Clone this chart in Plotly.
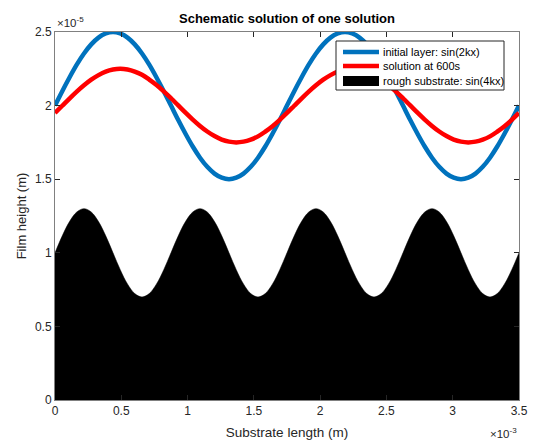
import plotly.graph_objects as go

# Sample positions along the substrate (units of 1e-3 m)
x_mm = [i * 0.0546875 for i in range(65)]

# Film heights (units of 1e-5 m)
initial_layer = [
    2.000, 2.098, 2.191, 2.278, 2.354, 2.416, 2.462, 2.490,
    2.500, 2.490, 2.462, 2.416, 2.354, 2.278, 2.191, 2.098,
    2.000, 1.902, 1.809, 1.722, 1.646, 1.584, 1.538, 1.510,
    1.500, 1.510, 1.538, 1.584, 1.646, 1.722, 1.809, 1.902,
    2.000, 2.098, 2.191, 2.278, 2.354, 2.416, 2.462, 2.490,
    2.500, 2.490, 2.462, 2.416, 2.354, 2.278, 2.191, 2.098,
    2.000, 1.902, 1.809, 1.722, 1.646, 1.584, 1.538, 1.510,
    1.500, 1.510, 1.538, 1.584, 1.646, 1.722, 1.809, 1.902,
    2.000]
solution_600s = [
    1.950, 1.999, 2.048, 2.095, 2.138, 2.176, 2.207, 2.231,
    2.245, 2.250, 2.245, 2.231, 2.209, 2.177, 2.140, 2.097,
    2.050, 2.001, 1.952, 1.905, 1.862, 1.824, 1.793, 1.769,
    1.755, 1.750, 1.755, 1.769, 1.791, 1.823, 1.860, 1.903,
    1.950, 1.999, 2.048, 2.095, 2.138, 2.176, 2.207, 2.231,
    2.245, 2.250, 2.245, 2.231, 2.209, 2.177, 2.140, 2.097,
    2.050, 2.001, 1.952, 1.905, 1.862, 1.824, 1.793, 1.769,
    1.755, 1.750, 1.755, 1.769, 1.791, 1.823, 1.860, 1.903,
    1.950]
substrate = [
    1.000, 1.115, 1.212, 1.277, 1.300, 1.277, 1.212, 1.115,
    1.000, 0.885, 0.788, 0.723, 0.700, 0.723, 0.788, 0.885,
    1.000, 1.115, 1.212, 1.277, 1.300, 1.277, 1.212, 1.115,
    1.000, 0.885, 0.788, 0.723, 0.700, 0.723, 0.788, 0.885,
    1.000, 1.115, 1.212, 1.277, 1.300, 1.277, 1.212, 1.115,
    1.000, 0.885, 0.788, 0.723, 0.700, 0.723, 0.788, 0.885,
    1.000, 1.115, 1.212, 1.277, 1.300, 1.277, 1.212, 1.115,
    1.000, 0.885, 0.788, 0.723, 0.700, 0.723, 0.788, 0.885,
    1.000]

series_names = ["initial layer: sin(2kx)", "solution at 600s", "rough substrate: sin(4kx)"]
x_ticks = [0, 0.5, 1, 1.5, 2, 2.5, 3, 3.5]
y_ticks = [0, 0.5, 1, 1.5, 2, 2.5]

BLUE, RED = "#0072BD", "#FF0000"
FONT = "Liberation Sans, Arial, sans-serif"
AX = "#262626"

W, H = 537, 443
ML, MR, MT, MB = 55, 18, 32, 43
PW, PH = W - ML - MR, H - MT - MB


def px(xp):
    return (xp - ML) / PW


def py(yp):
    return (H - MB - yp) / PH


x = [v * 1e-3 for v in x_mm]

fig = go.Figure()
fig.add_trace(go.Scatter(x=x, y=[v * 1e-5 for v in initial_layer], mode="lines",
                         line=dict(color=BLUE, width=4.5, shape="spline"),
                         name=series_names[0], showlegend=False))
fig.add_trace(go.Scatter(x=x, y=[v * 1e-5 for v in solution_600s], mode="lines",
                         line=dict(color=RED, width=4.5, shape="spline"),
                         name=series_names[1], showlegend=False))
fig.add_trace(go.Scatter(x=x, y=[v * 1e-5 for v in substrate], mode="lines",
                         line=dict(color="black", width=0.5, shape="spline"),
                         fill="tozeroy", fillcolor="black",
                         name=series_names[2], showlegend=False))

axis_common = dict(showgrid=False, zeroline=False, showline=True, linecolor="#808080",
                   linewidth=1, mirror="allticks", ticks="inside", ticklen=5,
                   tickcolor=AX, automargin=False,
                   tickfont=dict(family=FONT, size=12, color=AX))

fig.update_layout(
    width=W, height=H,
    margin=dict(l=ML, r=MR, t=MT, b=MB),
    paper_bgcolor="white", plot_bgcolor="white",
    showlegend=False,
    title=dict(text="<b>Schematic solution of one solution</b>", x=0.5, xanchor="center",
               xref="paper", y=1 - 18 / H, yanchor="middle",
               font=dict(family=FONT, size=13, color="black")),
    xaxis=dict(range=[0, 3.5e-3], tickvals=[v * 1e-3 for v in x_ticks],
               ticktext=[f"{v:g}" for v in x_ticks],
               title=dict(text="Substrate length (m)", standoff=10,
                          font=dict(family=FONT, size=13.5, color=AX)),
               **axis_common),
    yaxis=dict(range=[0, 2.5e-5], tickvals=[v * 1e-5 for v in y_ticks],
               ticktext=[f"{v:g}" for v in y_ticks],
               title=dict(text="Film height (m)", standoff=5,
                          font=dict(family=FONT, size=13, color=AX)),
               **axis_common),
)

# Axis exponent labels
fig.add_annotation(text="\u00d710<sup>-5</sup>", xref="paper", yref="paper",
                   x=px(55), y=py(22), xanchor="left", yanchor="middle", showarrow=False,
                   font=dict(family=FONT, size=11.5, color=AX))
fig.add_annotation(text="\u00d710<sup>-3</sup>", xref="paper", yref="paper",
                   x=px(519), y=py(433), xanchor="right", yanchor="middle", showarrow=False,
                   font=dict(family=FONT, size=11.5, color=AX))

# Legend box drawn by hand for compact row spacing
fig.add_shape(type="rect", xref="paper", yref="paper",
              x0=px(336), x1=px(504), y0=py(90), y1=py(41),
              line=dict(color=AX, width=1), fillcolor="white", layer="above")
rows = [52, 66, 81]
fig.add_shape(type="line", xref="paper", yref="paper", x0=px(343), x1=px(379),
              y0=py(rows[0]), y1=py(rows[0]), line=dict(color=BLUE, width=4.5), layer="above")
fig.add_shape(type="line", xref="paper", yref="paper", x0=px(343), x1=px(379),
              y0=py(rows[1]), y1=py(rows[1]), line=dict(color=RED, width=4.5), layer="above")
fig.add_shape(type="rect", xref="paper", yref="paper", x0=px(343), x1=px(379),
              y0=py(rows[2] + 5), y1=py(rows[2] - 5), line=dict(width=0),
              fillcolor="black", layer="above")
for name, r in zip(series_names, rows):
    fig.add_annotation(text=name, xref="paper", yref="paper", x=px(381), y=py(r),
                       xanchor="left", yanchor="middle", showarrow=False,
                       font=dict(family=FONT, size=11, color="black"))

fig.write_html("out.html")
